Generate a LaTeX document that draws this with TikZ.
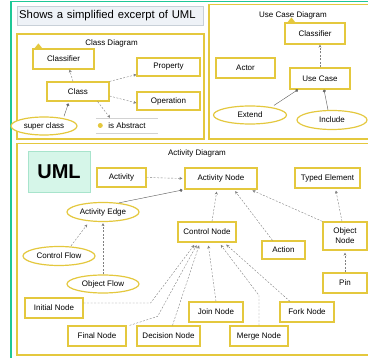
\documentclass[tikz,border=0pt]{standalone}
\usepackage{fontspec}
\setmainfont{Liberation Sans}
\usetikzlibrary{shapes.geometric, arrows.meta}

\definecolor{umlyellow}{RGB}{228,200,62}
\definecolor{sheetgreen}{RGB}{30,200,150}
\definecolor{titlefill}{RGB}{238,242,247}
\definecolor{titleline}{RGB}{200,208,216}
\definecolor{umlfill}{RGB}{214,246,233}
\definecolor{umlline}{RGB}{168,228,204}

\begin{document}
\begin{tikzpicture}[x=1pt, y=-1pt,
  font=\fontsize{8}{10}\selectfont,
  wh/.style 2 args={minimum width=#1pt, minimum height=#2pt},
  box/.style={draw=umlyellow, line width=1.2pt, fill=white, inner sep=1pt},
  oval/.style={ellipse, draw=umlyellow, line width=1.2pt, fill=white, inner sep=0pt},
  frame/.style={draw=umlyellow, line width=1.2pt},
  dep/.style={draw=gray, dash pattern=on 2pt off 1.5pt, line width=0.4pt,
    -{Stealth[length=3pt,width=3pt]}},
  assoc/.style={draw=gray!80!black, line width=0.45pt, -{Circle[length=3pt]}}]
\clip (0,0) rectangle (368,358);
\draw[sheetgreen, line width=1pt] (11,362) -- (11,2) -- (372,2);

% frames
\draw[frame] (17,34) rectangle (204,139);
\draw[frame] (209,4.5) rectangle (374,139);
\draw[frame] (17,143.5) rectangle (374,355);
\node[draw=titleline, fill=titlefill, anchor=west, wh={186}{19}, inner xsep=2pt,
  text width=182pt, align=left, font=\fontsize{11.3}{13}\selectfont] (title) at (17,15.5)
  {Shows a simplified excerpt of UML};

% class diagram
\node (clslabel) at (111.5,43) {Class Diagram};
\node[box, wh={61}{20}] (cls) at (63.5,59) {Classifier};
\node[box, wh={63}{18}] (prop) at (168.5,67) {Property};
\node[box, wh={62}{19}] (class) at (78,91.5) {Class};
\node[box, wh={63}{18}] (oper) at (168.5,101) {Operation};
\node[oval, wh={66}{18}] (super) at (44,126) {super class};
\node[wh={62}{15}, inner sep=0pt] (abs) at (127,125.5) {is Abstract};
\draw[gray!35] (abs.north west) -- (abs.north east) (abs.south west) -- (abs.south east);
\fill[umlyellow] ([xshift=4.5pt]abs.west) circle (2.5pt);
\fill[umlyellow] ([xshift=2pt]cls.north west) -- ++(8,0) -- ++(-4,-5) -- cycle;

\draw[dep] ([xshift=-5pt]class.north) -- ([xshift=6pt]cls.south);
\draw[dep] (class.north east) -- ([yshift=2pt]prop.south west);
\draw[dep] ([yshift=-4.5pt]class.east) -- ([yshift=-2pt]oper.west);
\draw[dep] ([xshift=-12pt]class.south east) -- ([xshift=-17pt]abs.north);
\draw[assoc, shorten >=2pt] ([xshift=20pt]super.north) -- ([xshift=-9pt]class.south);

% use case diagram
\node (uclabel) at (293,15) {Use Case Diagram};
\node[box, wh={60}{21}] (ucls) at (315,33.5) {Classifier};
\node[box, wh={59}{20}] (actor) at (245.5,68) {Actor};
\node[box, wh={60}{21}] (usecase) at (320,78.5) {Use Case};
\node[oval, wh={73}{18}] (extend) at (250,115) {Extend};
\node[oval, wh={70}{19}] (include) at (332,120) {Include};
\fill[umlyellow] ([xshift=3pt]ucls.north west) -- ++(8,0) -- ++(-4,-5) -- cycle;

\draw[dep] (usecase.north) -- ([xshift=5pt]ucls.south);
\draw[assoc] ([xshift=24pt]extend.north) -- ([xshift=-22pt]usecase.south);
\draw[assoc] ([xshift=-4pt]include.north) -- ([xshift=4pt]usecase.south);

% activity diagram
\node (actlabel) at (197,153) {Activity Diagram};
\node[draw=umlline, fill=umlfill, line width=0.8pt, wh={62}{41},
  font=\bfseries\fontsize{20}{24}\selectfont] (uml) at (59,171.5) {UML};
\node[box, wh={49}{19}] (act) at (121.5,177.5) {Activity};
\node[box, wh={72}{21}] (actnode) at (221,178.5) {Activity Node};
\node[box, wh={65}{20}] (typed) at (327.5,178) {Typed Element};
\node[oval, wh={72}{19}] (edge) at (103,212) {Activity Edge};
\node[box, wh={58}{20}] (ctrl) at (207,232) {Control Node};
\node[box, wh={44}{28}, align=center] (objnode) at (345,236) {Object\\Node};
\node[box, wh={43}{18}] (action) at (283.5,250) {Action};
\node[oval, wh={72}{19}] (cflow) at (59,256) {Control Flow};
\node[oval, wh={72}{18}] (oflow) at (103,284) {Object Flow};
\node[box, wh={44}{20}] (pin) at (345,283) {Pin};
\node[box, wh={58}{20}] (init) at (54,308) {Initial Node};
\node[box, wh={54}{20}] (join) at (216,312) {Join Node};
\node[box, wh={54}{20}] (fork) at (307,312) {Fork Node};
\node[box, wh={58}{20}] (final) at (97,336) {Final Node};
\node[box, wh={63}{20}] (decision) at (168.5,336) {Decision Node};
\node[box, wh={58}{20}] (merge) at (259,336) {Merge Node};

\draw[dep, shorten >=2pt] (act.east) -- (actnode.west);
\draw[assoc, shorten >=2pt] (edge.30) -- (actnode.south west);
\draw[dep, shorten >=3pt] ([xshift=12pt]cflow.north) -- ([xshift=-14pt]edge.south);
\draw[dep, shorten >=1pt] (oflow.north) -- (edge.south);
\draw[dep, shorten >=2pt] ([xshift=5pt]ctrl.north) -- ([xshift=-4pt]actnode.south);
\draw[dep, shorten >=2pt] ([xshift=-11pt]action.north) -- ([xshift=13pt]actnode.south);
\draw[dep, shorten >=2pt] (objnode.north west) -- ([xshift=-7pt]actnode.south east);
\draw[dep, shorten >=2pt] ([xshift=-3pt]objnode.north) -- ([xshift=8pt]typed.south);
\draw[dep, shorten >=2pt] (pin.north) -- (objnode.south);
\draw[dep, shorten >=3pt] ([yshift=5pt]init.east) -- ++(67,0) -- ([xshift=-11pt]ctrl.south);
\draw[dep, shorten >=3pt] ([xshift=3pt]final.north east) -- ++(28,-9) -- ([xshift=-9pt]ctrl.south);
\draw[dep, shorten >=3pt] ([xshift=4pt]decision.north) -- ([xshift=-7pt]ctrl.south);
\draw[dep, shorten >=3pt] (join.north) -- ([xshift=1pt]ctrl.south);
\draw[dep, shorten >=3pt] (merge.north) -- ++(0,-30) -- ([xshift=12pt]ctrl.south);
\draw[dep, shorten >=3pt] ([xshift=-17pt]fork.north) -- ([xshift=17pt]ctrl.south);
\end{tikzpicture}
\end{document}
